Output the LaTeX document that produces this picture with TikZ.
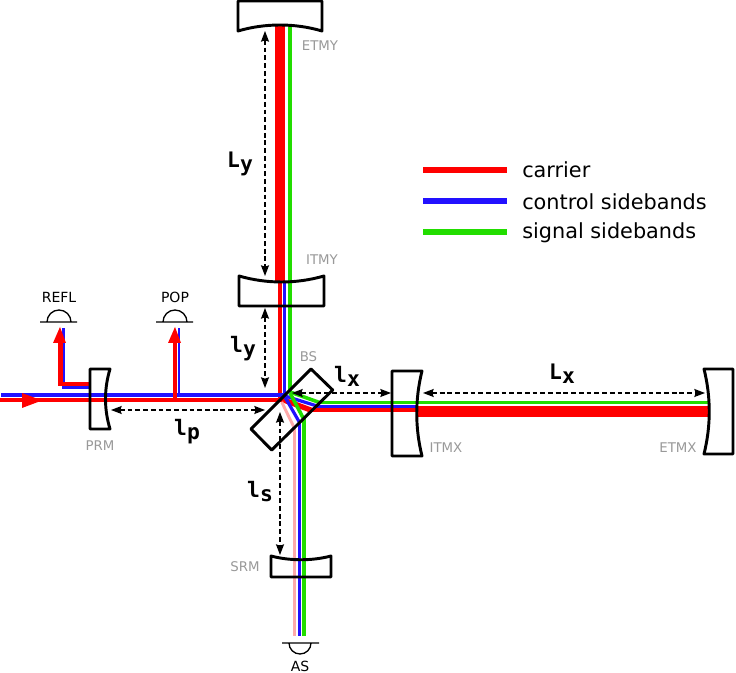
\documentclass[tikz,border=0pt]{standalone}
\usepackage{fontspec}
\setmainfont{DejaVu Sans}
\newfontfamily\monob[Scale=1]{DejaVu Sans Mono Bold}
\usetikzlibrary{arrows.meta}
\definecolor{cred}{HTML}{FF0000}
\definecolor{cblue}{HTML}{2211FF}
\definecolor{cgreen}{HTML}{22DD00}
\definecolor{cpink}{HTML}{FFAAAA}
\definecolor{cgray}{HTML}{999999}
\tikzset{
  mirrorline/.style={draw=black,line width=2.2pt,line join=round},
  det/.style={draw=black,line width=1pt},
  redb/.style={cred,line width=3pt},
  blueb/.style={cblue,line width=2.4pt},
  greenb/.style={cgreen,line width=2.7pt},
  pinkb/.style={cpink,line width=2.2pt},
  thickred/.style={cred,line width=7.8pt},
  dim/.style={draw=black,line width=1pt,dash pattern=on 3.6pt off 2.2pt,{Stealth[length=8pt,width=6pt,inset=1pt]}-{Stealth[length=8pt,width=6pt,inset=1pt]}},
  gl/.style={text=cgray,font=\fontsize{10}{12}\selectfont,inner sep=0pt},
  bl/.style={text=black,font=\fontsize{10.5}{12}\selectfont,inner sep=0pt},
  leg/.style={text=black,font=\fontsize{15.6}{18}\selectfont,inner sep=0pt,anchor=west},
  dl/.style={text=black,font=\monob\fontsize{16}{18}\selectfont,inner sep=0pt},
}
\newcommand{\dimlab}[2]{#1\raisebox{-3pt}{#2}}
\begin{document}
\begin{tikzpicture}[x=0.75pt,y=-0.75pt]
\useasboundingbox (0,0) rectangle (736,673);
\fill[white] (0,0) rectangle (736,673);
% beams: Y arm
\draw[thickred] (280,25) -- (280,282);
\draw[greenb] (290,25) -- (290,391);
\draw[redb] (279.5,282) -- (279.5,399);
\draw[blueb] (284.3,282) -- (284.3,396);
% beams: input
\draw[blueb] (1,395) -- (287,395);
\draw[redb] (0,400.5) -- (283,400.5);
% fans in BS
\draw[redb,line width=4pt] (281,399) -- (312,410.5);
\draw[blueb] (285,396) -- (317,406);
\draw[greenb] (290,392) -- (320,402.7);
\draw[pinkb] (281.7,402) -- (294.3,428);
\draw[blueb] (285,397) -- (299.8,423);
\draw[greenb] (290,393) -- (303.7,419);
% X arm
\draw[greenb] (319,402.7) -- (709,402.7);
\draw[blueb] (316,406.5) -- (417,406.5);
\draw[redb] (312,410.5) -- (417,410.5);
\draw[thickred] (417,411.5) -- (709,411.5);
% output
\draw[pinkb] (294.3,427) -- (294.3,636);
\draw[blueb] (299.8,422) -- (299.8,636);
\draw[greenb] (303.7,418) -- (303.7,636);
% REFL, POP
\draw[blueb,line width=2.2pt] (89,387.3) -- (63.8,387.3) -- (63.8,328);
\draw[redb,line width=3.3pt,line join=miter] (89,384) -- (60.5,384) -- (60.5,340);
\draw[blueb,line width=2.1pt] (179,395) -- (179,328);
\draw[redb] (175.2,400) -- (175.2,340);
\fill[cred] (60,327) -- (66,343) -- (53,343) -- cycle;
\fill[cred] (175,327) -- (181,343) -- (168,343) -- cycle;
\fill[cred] (42,400.5) -- (22,393) -- (22,408) -- cycle;
% mirrors
\draw[mirrorline] (238,1) -- (322,1) -- (322,31) .. controls (295,23) and (265,23) .. (238,31) -- cycle;
\draw[mirrorline] (239,276) .. controls (267,284) and (296,284) .. (324,276) -- (324,306) -- (239,306) -- cycle;
\draw[mirrorline] (90,369) -- (110,369) .. controls (104,389) and (104,409) .. (110,429) -- (90,429) -- cycle;
\draw[mirrorline] (392,371) -- (422,371) .. controls (415,399) and (415,428) .. (422,456) -- (392,456) -- cycle;
\draw[mirrorline] (733,369) -- (704,369) .. controls (711,397) and (711,426) .. (704,454) -- (733,454) -- cycle;
\draw[mirrorline] (271,556) .. controls (290,561) and (312,561) .. (331,556) -- (331,577) -- (271,577) -- cycle;
\draw[mirrorline] (311,369) -- (332.7,390) -- (271.7,450) -- (251,429) -- cycle;
% detectors
\draw[det] (40,322) -- (77,322) (47,322) arc[start angle=180,end angle=360,radius=12];
\draw[det] (156,322) -- (193,322) (163,322) arc[start angle=180,end angle=360,radius=12];
\draw[det] (282,643) -- (319,643) (289,643) arc[start angle=180,end angle=0,radius=11];
\node[bl] (lrefl) at (59,297) {REFL};
\node[bl] (lpop) at (175,297) {POP};
\node[bl] (las) at (300,666.5) {AS};
% dimension arrows
\coordinate (Lyt) at (265,31); \coordinate (Lyb) at (265,276);
\coordinate (lyt) at (265,308); \coordinate (lyb) at (265,388);
\coordinate (lxl) at (292,393); \coordinate (lxr) at (391,393);
\coordinate (Lxl) at (423,393); \coordinate (Lxr) at (705,393);
\coordinate (lpl) at (111,410); \coordinate (lpr) at (265,410);
\coordinate (lst) at (280,412); \coordinate (lsb) at (280,555);
\draw[dim] (Lyt) -- (Lyb);
\draw[dim] (lyt) -- (lyb);
\draw[dim] (lxl) -- (lxr);
\draw[dim] (Lxl) -- (Lxr);
\draw[dim] (lpl) -- (lpr);
\draw[dim] (lst) -- (lsb);
\node[dl] (tLy) at (240,164) {\dimlab{L}{y}};
\node[dl] (tly) at (243,349) {\dimlab{l}{y}};
\node[dl] (tlx) at (347,376) {\dimlab{l}{x}};
\node[dl] (tLx) at (562,374) {\dimlab{L}{x}};
\node[dl] (tlp) at (187,432) {\dimlab{l}{p}};
\node[dl] (tls) at (260,492) {\dimlab{l}{s}};
% mirror labels
\node[gl] (eY) at (320,46) {ETMY};
\node[gl] (iY) at (322,260) {ITMY};
\node[gl] (bs) at (308.5,357) {BS};
\node[gl] (iX) at (446,448) {ITMX};
\node[gl] (eX) at (678,448) {ETMX};
\node[gl] (prm) at (100,446) {PRM};
\node[gl] (srm) at (245,567) {SRM};
% legend
\draw[cred,line width=4.2pt] (423,170) -- (507,170);
\draw[cblue,line width=4.2pt] (423,201) -- (507,201);
\draw[cgreen,line width=4.2pt] (423,232) -- (507,232);
\node[leg] (lc) at (522,170) {carrier};
\node[leg] (lb) at (522,202) {control sidebands};
\node[leg] (lg) at (522,233) {signal sidebands};
\end{tikzpicture}
\end{document}
